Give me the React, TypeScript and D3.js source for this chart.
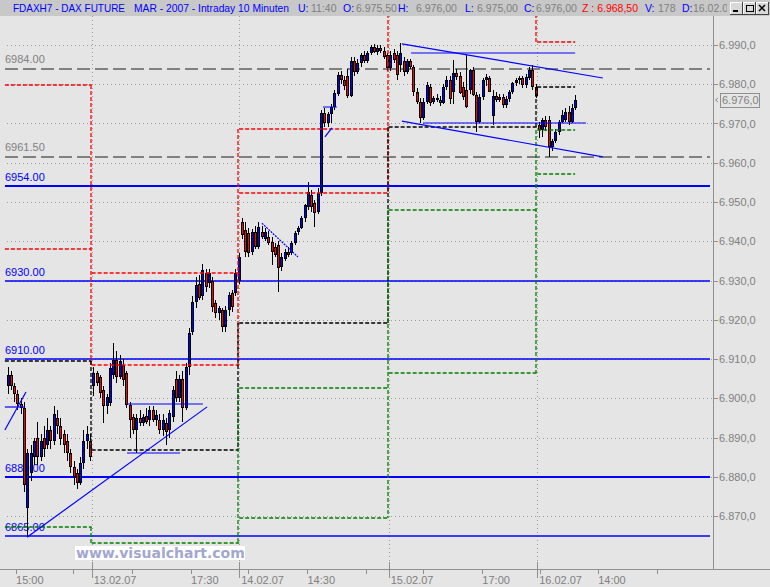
import * as d3 from "d3";

// 10-minute bars, [open, high, low, close], one array per session
const bars1202 = [
  [6903, 6908, 6901, 6906], [6906, 6907, 6902, 6903], [6903, 6904, 6899, 6901],
  [6901, 6902, 6897, 6898.5], [6898.5, 6900, 6896, 6897.5], [6897.5, 6899, 6876, 6878],
  [6872, 6887, 6865, 6886], [6881, 6888, 6879, 6886], [6885, 6890, 6883, 6889],
  [6890, 6894, 6883, 6885], [6885, 6891, 6884, 6889], [6890, 6893, 6885, 6887],
  [6888, 6895, 6887, 6892], [6892, 6893, 6887, 6889], [6889, 6898, 6888, 6896],
  [6895, 6897, 6891, 6893], [6893, 6895, 6888, 6889.5], [6891, 6892, 6886, 6888],
  [6889, 6891, 6884, 6886], [6886, 6887, 6881, 6882.5], [6882.5, 6884, 6878, 6880],
  [6881, 6882, 6877, 6878.5], [6878.5, 6885, 6878, 6883.5], [6883.5, 6892, 6882, 6889],
  [6889, 6893, 6887, 6891], [6889, 6891, 6884, 6885],
];
const bars1302 = [
  [6903, 6908, 6900.5, 6906.5], [6906.5, 6907, 6903, 6904], [6905.5, 6906, 6900, 6901.3],
  [6902, 6903, 6893.7, 6898], [6898, 6901, 6896, 6900.4], [6898.7, 6909, 6898, 6907.6],
  [6906, 6914, 6905, 6909.7], [6909.7, 6912, 6904, 6905.5], [6905.5, 6911, 6905, 6909.5],
  [6908.5, 6910, 6903, 6904.6], [6906.4, 6907, 6897.5, 6898.3], [6898.3, 6899, 6890, 6894.5],
  [6895.3, 6896, 6891, 6892], [6892, 6896, 6886, 6895], [6895, 6897, 6893, 6893.6],
  [6893.6, 6896, 6893, 6895.3], [6895.5, 6897.5, 6893.5, 6894], [6894.5, 6898, 6893, 6897],
  [6897, 6898, 6894, 6894.5], [6894.5, 6897, 6893, 6895.7], [6894.5, 6896, 6891, 6891.9],
  [6892, 6896, 6890.5, 6894.5], [6893.6, 6895, 6888.1, 6891.5], [6892, 6897, 6890, 6896.2],
  [6895.3, 6903, 6894, 6902.1], [6905, 6907, 6899, 6900], [6900, 6906, 6899, 6905],
  [6905, 6907, 6894, 6897.5], [6897.5, 6909, 6897, 6908], [6908, 6918, 6906, 6916.6],
  [6917, 6926, 6916, 6924.6], [6924.6, 6931, 6923, 6928.9], [6929, 6931.5, 6925, 6925.5],
  [6926, 6934.2, 6925, 6932.7], [6932, 6933, 6927, 6928.4], [6929.3, 6933, 6928, 6932],
  [6930, 6931, 6922, 6923.3], [6924.2, 6925, 6920.5, 6921.6], [6921.6, 6923.5, 6920, 6922.9],
  [6922.5, 6923, 6917, 6918.2], [6918.2, 6923.5, 6917, 6922.5], [6922.5, 6927, 6921, 6926.3],
  [6926.7, 6927.5, 6922, 6923.3], [6926.7, 6933, 6926, 6931.8], [6930, 6937, 6929, 6936],
];
const bars1402 = [
  [6945, 6946, 6940.7, 6941.6], [6942.9, 6945, 6936, 6937.3], [6942, 6943.5, 6936, 6937],
  [6937.3, 6943, 6936.5, 6942.4], [6942.4, 6944, 6938, 6938.6], [6938.6, 6945, 6938, 6943.7],
  [6942.4, 6944, 6940.5, 6941.2], [6940.7, 6943.5, 6940, 6942.4], [6941.2, 6942.5, 6939, 6939.5],
  [6939.9, 6941, 6934, 6937.3], [6938.6, 6939.5, 6936, 6936.5], [6939, 6940, 6927.1, 6933.1],
  [6933.5, 6937, 6932.5, 6936.1], [6935.6, 6938, 6935, 6937.3], [6937.3, 6938.5, 6936, 6936.5],
  [6936.9, 6940, 6936.5, 6939.5], [6939.5, 6942.5, 6939, 6942], [6942.4, 6944, 6941.5, 6943.3],
  [6943.3, 6946.5, 6943, 6945.8], [6945.8, 6949.5, 6945, 6949.2], [6948.8, 6955, 6948, 6952.6],
  [6951.8, 6953, 6947.5, 6948.8], [6949.7, 6950.5, 6943.7, 6947.1], [6947.5, 6953.5, 6947, 6952.2],
  [6952.2, 6973.5, 6951.5, 6972.7], [6972.7, 6974, 6969, 6970], [6970, 6973, 6969, 6972.5],
  [6972.5, 6975, 6970, 6974.3], [6974.3, 6978.5, 6973.5, 6977.7], [6977.5, 6983, 6977, 6982.4],
  [6982.4, 6983.5, 6980, 6981], [6981, 6982, 6978.5, 6979.5], [6982, 6984, 6976.5, 6977],
  [6977, 6987, 6976.8, 6985.8], [6985.8, 6987, 6982, 6983], [6983, 6986.5, 6982.5, 6985.5],
  [6985.5, 6988, 6984.5, 6987.4], [6987.4, 6988.5, 6985.3, 6986], [6986, 6988.5, 6985.5, 6988],
  [6988, 6990, 6987.5, 6989.6], [6989.5, 6990.3, 6988, 6988.3], [6988.3, 6990, 6987.5, 6989.2],
  [6989.2, 6990, 6988, 6988.5], [6988.5, 6989.5, 6986.5, 6987], [6987.5, 6988, 6983.5, 6984.1],
];
const bars1502 = [
  [6984.1, 6988.5, 6983.5, 6987.5], [6988, 6989, 6985.5, 6986.2], [6987.5, 6988.5, 6981, 6982.4],
  [6984.9, 6990.4, 6983, 6987.9], [6985.8, 6987, 6982, 6983.2], [6983.2, 6986.5, 6982.5, 6985.8],
  [6985.8, 6986.5, 6984, 6984.5], [6984.5, 6985, 6977, 6978], [6978, 6979, 6975, 6975.6],
  [6975.6, 6976.5, 6970, 6971.3], [6971.5, 6976.5, 6971, 6975.6], [6975.6, 6980.5, 6975, 6979.8],
  [6979.4, 6980, 6974.5, 6975.1], [6975.6, 6977, 6975, 6976.5], [6976.5, 6977.5, 6975.5, 6976],
  [6976, 6977, 6974.5, 6975.3], [6975.3, 6980, 6975, 6979.4], [6979.4, 6982, 6978.5, 6981.1],
  [6981, 6982, 6975, 6976.2], [6978.1, 6986.2, 6975, 6982.8], [6982.8, 6984, 6981, 6981.8],
  [6982, 6983, 6977.5, 6977.7], [6979.4, 6980.5, 6976, 6976.8], [6978.5, 6987.5, 6974, 6974.3],
  [6978.5, 6984, 6977.5, 6983.6], [6983.6, 6984.5, 6977, 6977.3], [6977.3, 6978, 6967.9, 6970.5],
  [6970.5, 6977.5, 6970, 6976.8], [6976.8, 6981.5, 6976, 6981.1], [6981.1, 6982.5, 6979.5, 6981.9],
  [6981.5, 6982, 6978, 6978.1], [6972, 6978.5, 6969.5, 6977], [6977, 6978, 6975.5, 6976],
  [6976, 6977.5, 6975.5, 6976.8], [6976.8, 6977.5, 6974, 6974.7], [6974.7, 6977, 6974, 6976.2],
  [6976.2, 6978.5, 6975.5, 6978.1], [6978.1, 6980.5, 6977.5, 6980.2], [6980.2, 6981.5, 6979.5, 6981.1],
  [6981.1, 6982, 6980, 6981.5], [6981.5, 6982, 6979, 6979.8], [6979.8, 6982.5, 6979, 6981.9],
  [6981.5, 6984.5, 6981, 6983.6], [6983.6, 6985, 6978.5, 6979.4], [6979.4, 6980, 6976.5, 6977],
];
const bars1602 = [
  [6969.6, 6970.5, 6966.2, 6968.3], [6968.3, 6971.5, 6966.5, 6970.9], [6970.9, 6972, 6968, 6969.2],
  [6970.9, 6972, 6961.5, 6964.1], [6964.1, 6966, 6963, 6965.5], [6965.5, 6968.5, 6965, 6967.9],
  [6967.9, 6971, 6967, 6970.5], [6970.5, 6973.5, 6970, 6972.2], [6971, 6974, 6970.5, 6973],
  [6973, 6974.5, 6969.5, 6970.5], [6970.5, 6975, 6970, 6973.9], [6973.9, 6977.3, 6973.5, 6976],
];
const sessions = [bars1202, bars1302, bars1402, bars1502, bars1602];

// session boundaries in bar index units
const sessionBounds = [-0.8, 25.5, 70.2, 115.5, 160.5, 172];
const dayLabels = ["13.02.07", "14.02.07", "15.02.07", "16.02.07"];

// time axis ticks (bar index) and their labels
const timeTicks = [2.6, 19.9, 37.7, 55.6, 72.9, 90.9, 108.5, 126, 143.9, 161.5, 179, 196.9];
const timeTickLabels = ["15:00", "", "", "17:30", "", "14:30", "", "", "17:00", "", "14:00", ""];

// pivot style levels per session
const redLevels = [[6979.8, 6938.0], [6931.9, 6908.5], [6968.6, 6952.3], [7004, 6999], [7001, 6990.8]];
const blackLevels = [[6909.5], [6886.8], [6919.2], [6969.1], [6979.3]];
const greenLevels = [[6867.2], [6863.1], [6902.6, 6869.5], [6948.0, 6906.4], [6968.3, 6957.1]];

// horizontal support / resistance
const blueLevels = [6954, 6930, 6910, 6880, 6865];
const grayLevels = [6984, 6961.5];

// drawn trend lines: [bar1, price1, bar2, price2]
const trendLines = [
  [-0.8, 6891.9, 5.6, 6901.6],
  [-0.8, 6897.8, 5.3, 6897.8],
  [5.9, 6864.6, 60.5, 6897.8],
  [36.2, 6898.5, 59.2, 6898.5],
  [36.2, 6886.0, 52.3, 6886.0],
  [95.6, 6974.3, 99.8, 6974.3],
  [96.2, 6966.6, 98.3, 6968.9],
  [119.5, 6990.3, 180.4, 6981.6],
  [119.5, 6970.6, 180.4, 6961.5],
  [122.3, 6988.0, 172.0, 6988.0],
  [125.9, 6970.0, 175.3, 6970.0],
];
const dottedTrend = [77.1, 6944.6, 88.0, 6936.0];

const headerFields = [
  ["U:", "11:40"], ["O:", "6.975,50"], ["H:", "6.976,00"], ["L:", "6.975,00"],
  ["C:", "6.976,00"], ["V:", "178"], ["D:", "16.02.07"],
];
const lastZ = "6.968,50";

const FONT = "'Liberation Sans', Arial, sans-serif";
const GRAY = "#808080";
const BLUE = "#0000ff";

export default function App() {
  const W = 770;
  const H = 587;
  const plotRight = 713;
  const plotTop = 16;
  const axisY = 569.5;

  const x = d3.scaleLinear().domain([0, 172]).range([7.5, 575.1]);
  const y = d3.scaleLinear().domain([6990, 6870]).range([45, 516]);
  const yr = (v: number) => Math.round(y(v));
  const de = d3.formatLocale({ decimal: ",", thousands: ".", grouping: [3], currency: ["", ""] });
  const fmt = de.format(",.1f");
  const priceTicks = d3.range(6870, 6991, 10);

  const bars: { i: number; o: number; h: number; l: number; c: number }[] = [];
  let idx = 0;
  sessions.forEach((s) =>
    s.forEach(([o, h, l, c]) => {
      bars.push({ i: idx, o, h, l, c });
      idx++;
    })
  );
  const last = bars[bars.length - 1];

  const stepLines = (levels: number[][], color: string) => {
    const out: JSX.Element[] = [];
    levels.forEach((lv, d) => {
      lv.forEach((v, k) =>
        out.push(
          <line key={`h${d}-${k}`} x1={x(sessionBounds[d])} x2={x(sessionBounds[d + 1])}
            y1={yr(v)} y2={yr(v)} />
        )
      );
      if (d > 0) {
        const all = [...levels[d - 1], ...lv];
        const bx = Math.round(x(sessionBounds[d])) - 1;
        out.push(
          <line key={`v${d}`} x1={bx} x2={bx} y1={yr(d3.max(all)!)} y2={yr(d3.min(all)!)} />
        );
      }
    });
    return (
      <g stroke={color} strokeWidth={1.3} strokeDasharray="4,2" fill="none" shapeRendering="auto">
        {out}
      </g>
    );
  };

  const headerX = [298, 343, 398, 465, 524, 645, 682];
  const valueX = [311, 356, 416, 477, 536, 658, 693];

  return (
    <svg width={W} height={H} style={{ position: "absolute", left: 0, top: 0 }}
      fontFamily={FONT} shapeRendering="crispEdges">
      <defs>
        <clipPath id="plot">
          <rect x={0} y={plotTop} width={plotRight} height={axisY - plotTop} />
        </clipPath>
        <clipPath id="head">
          <rect x={0} y={0} width={727} height={plotTop} />
        </clipPath>
      </defs>
      <rect width={W} height={H} fill="#e5e5e5" />

      {/* header */}
      <rect width={W} height={plotTop} fill="#c8c8c8" />
      <g fontSize={10.5} clipPath="url(#head)" shapeRendering="auto">
        <text x={13} y={12} fill={BLUE} textLength={112} lengthAdjust="spacingAndGlyphs">FDAXH7 - DAX FUTURE</text>
        <text x={134} y={12} fill={BLUE} textLength={155} lengthAdjust="spacingAndGlyphs">MAR - 2007 - Intraday 10 Minuten</text>
        {headerFields.map(([k, v], j) => (
          <g key={k}>
            <text x={headerX[j]} y={12} fill={BLUE}>{k}</text>
            <text x={valueX[j]} y={12} fill={GRAY}>{v}</text>
          </g>
        ))}
        <text x={582} y={12} fill="#ff0000">Z : {lastZ}</text>
      </g>
      {[730, 743, 756].map((bx, j) => (
        <g key={bx}>
          <rect x={bx} y={2} width={12} height={12} fill="#d8d8d8" stroke="#ffffff" />
          <path d={`M${bx + 12.5},${2} V${14.5} H${bx}`} stroke="#404040" fill="none" />
          {j === 0 && <line x1={bx + 3} x2={bx + 8} y1={11} y2={11} stroke="#000" strokeWidth={2} />}
          {j === 1 && <rect x={bx + 3} y={5} width={7} height={6} fill="none" stroke="#000" />}
          {j === 2 && (
            <path d={`M${bx + 3},5 L${bx + 9},11 M${bx + 9},5 L${bx + 3},11`} stroke="#000"
              strokeWidth={1.5} shapeRendering="auto" />
          )}
        </g>
      ))}

      {/* axes frame */}
      <line x1={plotRight + 0.5} x2={plotRight + 0.5} y1={plotTop} y2={axisY} stroke="#909090" />
      <line x1={0} x2={W} y1={axisY} y2={axisY} stroke="#909090" />

      <g clipPath="url(#plot)">
        {/* dotted grid */}
        <g stroke="#9a9a9a" strokeDasharray="1,3">
          {priceTicks.map((t) => (
            <line key={t} x1={7} x2={plotRight} y1={yr(t) + 0.5} y2={yr(t) + 0.5} />
          ))}
          {sessionBounds.slice(1, 5).map((b) => (
            <line key={b} x1={Math.round(x(b)) + 0.5} x2={Math.round(x(b)) + 0.5}
              y1={plotTop} y2={axisY} />
          ))}
        </g>

        {/* gray long-dash levels */}
        <g stroke="#808080" strokeWidth={2} strokeDasharray="13,5">
          {grayLevels.map((v) => (
            <line key={v} x1={5} x2={710} y1={yr(v)} y2={yr(v)} />
          ))}
        </g>
        {/* blue levels */}
        <g stroke={BLUE}>
          {blueLevels.map((v) => {
            const thick = v === 6954 || v === 6880;
            return (
              <line key={v} x1={5} x2={710} y1={yr(v)} y2={yr(v)} strokeWidth={thick ? 2 : 1.3}
                shapeRendering={thick ? "crispEdges" : "auto"} />
            );
          })}
        </g>
        <g fontSize={11} shapeRendering="auto">
          {grayLevels.map((v) => (
            <text key={v} x={5} y={y(v) - 5.5} fill={GRAY}>{v.toFixed(2)}</text>
          ))}
          {blueLevels.map((v) => (
            <text key={v} x={5} y={y(v) - 5} fill={BLUE}>{v.toFixed(2)}</text>
          ))}
        </g>

        {/* candles: 3px black body with 1px coloured core */}
        <g>
          {bars.map((b) => {
            const cx = Math.round(x(b.i));
            const top = Math.round(y(Math.max(b.o, b.c)));
            const bot = Math.max(top + 2, Math.round(y(Math.min(b.o, b.c))));
            const hi = Math.round(y(b.h));
            const lo = Math.round(y(b.l));
            return (
              <g key={b.i}>
                <rect x={cx} y={hi} width={1} height={Math.max(1, lo - hi)} fill="#000" />
                <rect x={cx - 1} y={top} width={3} height={bot - top} fill="#000" />
                {bot - top > 2 && (
                  <rect x={cx} y={top + 1} width={1} height={bot - top - 2}
                    fill={b.c >= b.o ? BLUE : "#ff0000"} />
                )}
              </g>
            );
          })}
        </g>

        {/* pivot step lines */}
        {stepLines(redLevels, "#ff0000")}
        {stepLines(blackLevels, "#000000")}
        {stepLines(greenLevels, "#008000")}

        {/* trend lines */}
        <g stroke={BLUE} strokeWidth={1.2} fill="none" shapeRendering="auto">
          {trendLines.map(([a, p, b2, q], j) => (
            <line key={j} x1={x(a)} y1={p === q ? yr(p) : y(p)} x2={x(b2)} y2={p === q ? yr(q) : y(q)} />
          ))}
          <line x1={x(dottedTrend[0])} y1={y(dottedTrend[1])} x2={x(dottedTrend[2])}
            y2={y(dottedTrend[3])} strokeDasharray="2,1" />
        </g>
      </g>

      {/* watermark */}
      <rect x={75} y={546} width={170} height={14} fill="#ffffff" />
      <text x={76} y={558} fontFamily="'DejaVu Sans', Verdana, sans-serif" fontWeight="bold"
        fontSize={14} fill="#a2a7cf" shapeRendering="auto">www.visualchart.com</text>

      {/* right price axis */}
      <g fontSize={11} fill={GRAY} shapeRendering="auto">
        {priceTicks.map((t) => (
          <g key={t}>
            <line x1={plotRight} x2={plotRight + 5} y1={yr(t) + 0.5} y2={yr(t) + 0.5} stroke="#909090"
              shapeRendering="crispEdges" />
            <text x={719} y={y(t) + 4}>{fmt(t)}</text>
          </g>
        ))}
        <rect x={720.5} y={yr(last.c) - 6.5} width={39} height={14} fill="none"
          stroke="#909090" shapeRendering="crispEdges" />
        <text x={722} y={y(last.c) + 4}>{fmt(last.c)}</text>
        <path d={`M718,${y(last.c) - 2} L715.5,${y(last.c)} L718,${y(last.c) + 2}`} stroke="#909090"
          fill="none" />
      </g>

      {/* time axis */}
      <g stroke="#909090">
        {timeTicks.map((t) => (
          <line key={t} x1={Math.round(x(t)) + 0.5} x2={Math.round(x(t)) + 0.5}
            y1={axisY} y2={axisY + 4} />
        ))}
        {sessionBounds.slice(1, 5).map((b) => (
          <line key={b} x1={Math.round(x(b)) + 0.5} x2={Math.round(x(b)) + 0.5}
            y1={axisY - 8} y2={axisY + 8} />
        ))}
      </g>
      <g fontSize={11} fill={GRAY} shapeRendering="auto">
        {timeTicks.map((t, j) =>
          timeTickLabels[j] ? (
            <text key={t} x={x(t)} y={584}>{timeTickLabels[j]}</text>
          ) : null
        )}
        {sessionBounds.slice(1, 5).map((b, j) => (
          <text key={b} x={x(b) + 2} y={584}>{dayLabels[j]}</text>
        ))}
      </g>
    </svg>
  );
}
